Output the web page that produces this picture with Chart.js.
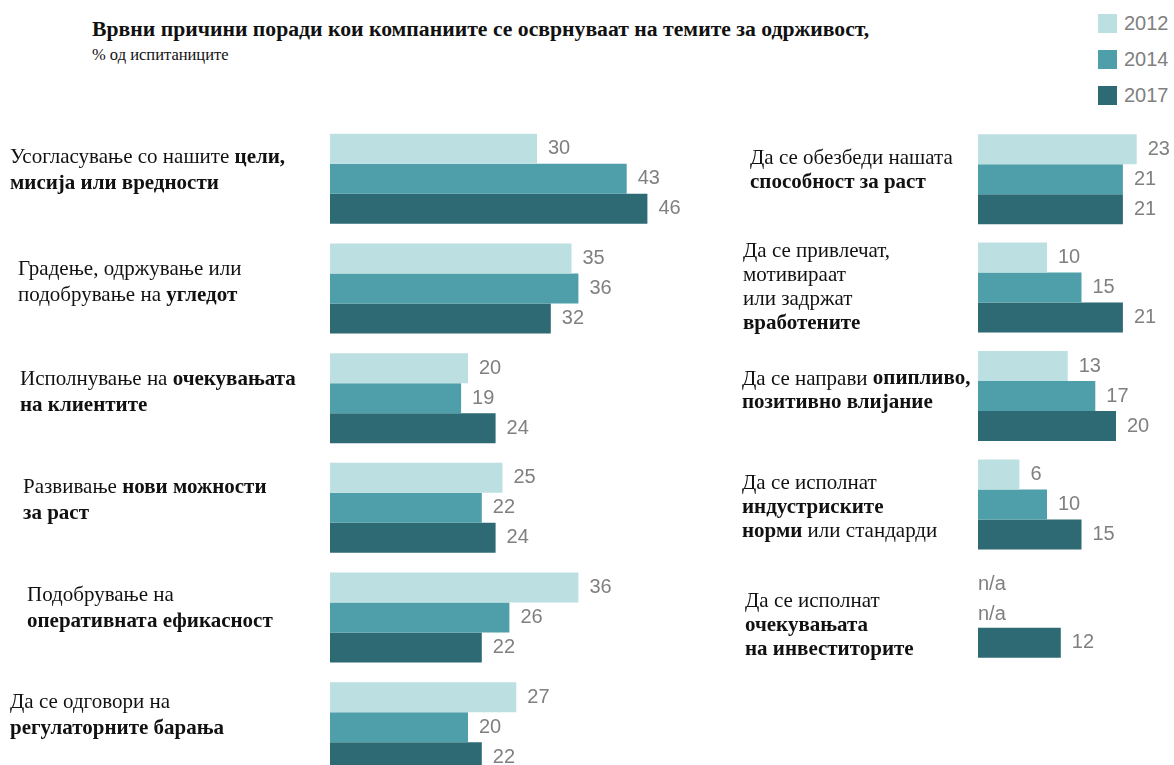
<!DOCTYPE html>
<html>
<head>
<meta charset="utf-8">
<script src="https://cdn.jsdelivr.net/npm/chart.js@4.4.1/dist/chart.umd.min.js"></script>
<style>
  html, body { margin: 0; padding: 0; background: #fff; overflow: hidden; }
  body { width: 1174px; height: 765px; position: relative; }
  .title { position: absolute; left: 92px; top: 17px; font: bold 21.7px "Liberation Serif", serif; color: #111; white-space: nowrap; }
  .subtitle { position: absolute; left: 92px; top: 45px; font: 16.5px "Liberation Serif", serif; color: #111; white-space: nowrap; }
  #legend { position: absolute; left: 1098px; top: 14px; }
  .leg { display: flex; align-items: center; height: 19px; margin-bottom: 17px; font: 20px "Liberation Sans", Arial, sans-serif; color: #808080; }
  .leg span.sw { display: inline-block; width: 19px; height: 19px; margin-right: 7px; }
  canvas { position: absolute; }
  #left { left: 0; top: 124px; }
  #right { left: 700px; top: 125px; }
</style>
</head>
<body>
<div class="title">Врвни причини поради кои компаниите се осврнуваат на темите за одрживост,</div>
<div class="subtitle">% од испитаниците</div>
<div id="legend"></div>
<canvas id="left" width="700" height="658"></canvas>
<canvas id="right" width="474" height="542"></canvas>
<script>
// data
var years = ['2012', '2014', '2017'];
var colors = ['#bcdfe2', '#4e9fa9', '#2e6a73'];

// "|" splits lines, text between ** is bold
var leftLabels = [
    'Усогласување со нашите **цели,**|**мисија или вредности**',
    'Градење, одржување или|подобрување на **угледот**',
    'Исполнување на **очекувањата**|**на клиентите**',
    'Развивање **нови можности**|**за раст**',
    'Подобрување на|**оперативната ефикасност**',
    'Да се одговори на|**регулаторните барања**'
];
var left2012 = [30, 35, 20, 25, 36, 27];
var left2014 = [43, 36, 19, 22, 26, 20];
var left2017 = [46, 32, 24, 24, 22, 22];

var rightLabels = [
    'Да се обезбеди нашата|**способност за раст**',
    'Да се привлечат,|мотивираат|или задржат|**вработените**',
    'Да се направи **опипливо,**|**позитивно влијание**',
    'Да се исполнат|**индустриските**|**норми** или стандарди',
    'Да се исполнат|**очекувањата**|**на инвеститорите**'
];
var right2012 = [23, 10, 13, 6, null];
var right2014 = [21, 15, 17, 10, null];
var right2017 = [21, 21, 20, 15, 12];

// layout
var leftIndent = [10, 18, 20, 23, 27, 10];
var leftDy = [-8, -6, -6, -7, -9, -12];
var rightIndent = [50, 43, 42, 42, 45];
var rightDy = [-9, 0, -5, 3, 13];

// legend
var legend = document.getElementById('legend');
years.forEach(function (y, i) {
    var row = document.createElement('div');
    row.className = 'leg';
    row.innerHTML = '<span class="sw" style="background:' + colors[i] + '"></span>' + y;
    legend.appendChild(row);
});

var sideLabels = {
    id: 'sideLabels',
    afterDraw: function (chart, args, opts) {
        var ctx = chart.ctx;
        var yScale = chart.scales.y;
        ctx.save();
        ctx.fillStyle = '#111';
        ctx.textBaseline = 'middle';
        ctx.textAlign = 'left';
        opts.labels.forEach(function (label, i) {
            var lines = label.split('|');
            var cy = yScale.getPixelForValue(i) + opts.dy[i];
            var top = cy - (lines.length - 1) * opts.lineHeight / 2;
            lines.forEach(function (line, j) {
                var x = opts.indent[i];
                line.split('**').forEach(function (part, k) {
                    ctx.font = (k % 2 ? 'bold ' : '') + '21px "Liberation Serif"';
                    ctx.fillText(part, x, top + j * opts.lineHeight);
                    x += ctx.measureText(part).width;
                });
            });
        });

        ctx.font = '20px "Liberation Sans"';
        ctx.fillStyle = '#808080';
        chart.data.datasets.forEach(function (ds, di) {
            var meta = chart.getDatasetMeta(di);
            meta.data.forEach(function (bar, i) {
                var v = ds.data[i];
                if (v == null) {
                    ctx.fillText('n/a', chart.chartArea.left, bar.y + 2);
                } else {
                    ctx.fillText(String(v), bar.x + 11, bar.y);
                }
            });
        });
        ctx.restore();
    }
};

function makeChart(id, labels, series, padLeft, xMax, catPct, labelOpts) {
    return new Chart(document.getElementById(id), {
        type: 'bar',
        data: {
            labels: labels,
            datasets: series.map(function (d, i) {
                return {
                    label: years[i],
                    data: d,
                    backgroundColor: colors[i],
                    borderWidth: 0,
                    categoryPercentage: catPct,
                    barPercentage: 1
                };
            })
        },
        options: {
            indexAxis: 'y',
            responsive: false,
            animation: false,
            devicePixelRatio: 1,
            layout: { padding: { left: padLeft, right: 0, top: 0, bottom: 0 } },
            scales: {
                x: { display: false, min: 0, max: xMax },
                y: { display: false }
            },
            plugins: {
                legend: { display: false },
                tooltip: { enabled: false },
                sideLabels: labelOpts
            }
        },
        plugins: [sideLabels]
    });
}

makeChart('left', leftLabels, [left2012, left2014, left2017], 330, 370 / 6.9, 90 / 109.6,
    { labels: leftLabels, indent: leftIndent, dy: leftDy, lineHeight: 26 });
makeChart('right', rightLabels, [right2012, right2014, right2017], 278, 196 / 6.9, 90 / 108.4,
    { labels: rightLabels, indent: rightIndent, dy: rightDy, lineHeight: 24 });
</script>
</body>
</html>
